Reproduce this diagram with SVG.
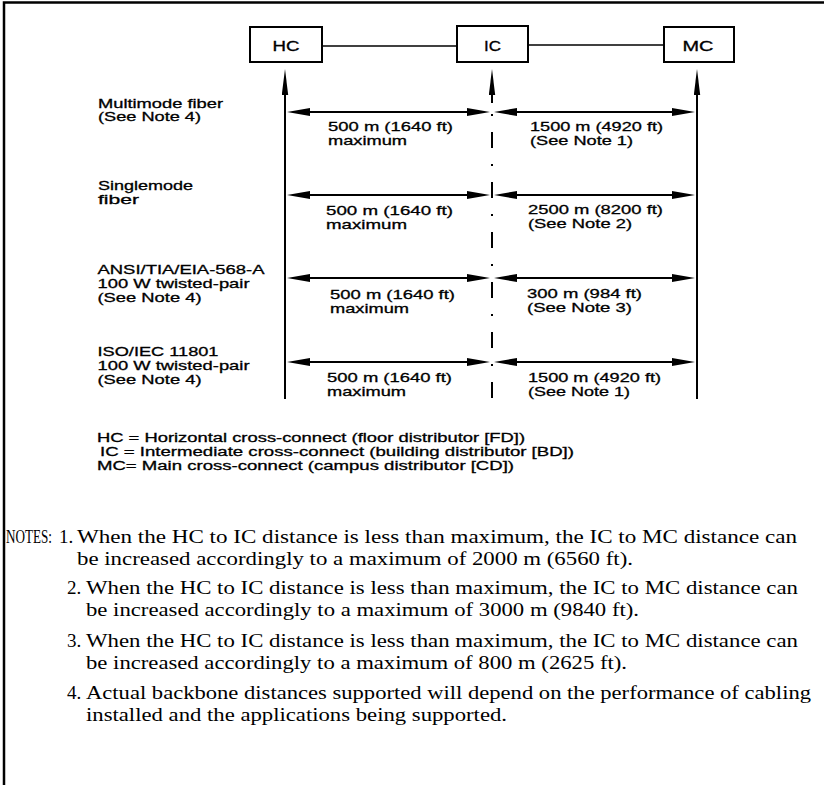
<svg xmlns="http://www.w3.org/2000/svg" width="824" height="785" viewBox="0 0 824 785">
<style>
.sans{font-family:"Liberation Sans",Arial,Helvetica,sans-serif;font-size:13px;fill:#000;stroke:#000;stroke-width:0.3;}
.big{font-size:14px;}
.leg{font-size:12.5px;}
.serif{font-family:"Liberation Serif","Times New Roman",serif;font-size:19px;fill:#000;}
.box{fill:#fff;stroke:#000;stroke-width:2;}
.thin{stroke:#000;stroke-width:1.3;fill:none;}
.thick{stroke:#000;stroke-width:2;fill:none;}
.frame{stroke:#000;stroke-width:2.5;fill:none;}
</style>
<defs>
<marker id="ah" markerUnits="userSpaceOnUse" viewBox="0 0 23 8" markerWidth="23" markerHeight="8" refX="13" refY="4" orient="auto-start-reverse"><path d="M0,0 L23,4 L0,8 z" fill="#000"/></marker>
<marker id="av" markerUnits="userSpaceOnUse" viewBox="0 0 26 7" markerWidth="26" markerHeight="7" refX="16" refY="3.5" orient="auto"><path d="M0,0.3 L26,3.5 L0,6.7 z" fill="#000"/></marker>
</defs>
<rect width="824" height="785" fill="#fff"/>
<path class="frame" d="M4,785 V2.5 H824"/>

<g id="connectors">
<line class="thin" x1="322" y1="46" x2="457" y2="46"/>
<line class="thin" x1="528" y1="45" x2="664" y2="45"/>
<line class="thick" x1="285" y1="399" x2="285" y2="79" marker-end="url(#av)"/>
<line class="thick" x1="697" y1="399" x2="697" y2="79" marker-end="url(#av)"/>
<line class="thick" x1="492" y1="103" x2="492" y2="79" marker-end="url(#av)"/>
<line class="thick" x1="492" y1="114" x2="492" y2="400" stroke-dasharray="2 16 16 16"/>
<line class="thick" x1="297" y1="112" x2="480" y2="112" marker-start="url(#ah)" marker-end="url(#ah)"/>
<line class="thick" x1="504" y1="112" x2="685" y2="112" marker-start="url(#ah)" marker-end="url(#ah)"/>
<line class="thick" x1="297" y1="195" x2="480" y2="195" marker-start="url(#ah)" marker-end="url(#ah)"/>
<line class="thick" x1="504" y1="195" x2="685" y2="195" marker-start="url(#ah)" marker-end="url(#ah)"/>
<line class="thick" x1="297" y1="278" x2="480" y2="278" marker-start="url(#ah)" marker-end="url(#ah)"/>
<line class="thick" x1="504" y1="278" x2="685" y2="278" marker-start="url(#ah)" marker-end="url(#ah)"/>
<line class="thick" x1="297" y1="362" x2="480" y2="362" marker-start="url(#ah)" marker-end="url(#ah)"/>
<line class="thick" x1="504" y1="362" x2="685" y2="362" marker-start="url(#ah)" marker-end="url(#ah)"/>
</g>

<g id="HC">
<rect class="box" x="250" y="27" width="72" height="35"/>
<text class="sans big" x="272.5" y="50.5" textLength="27" lengthAdjust="spacingAndGlyphs">HC</text>
</g>
<g id="IC">
<rect class="box" x="457" y="26" width="71" height="36"/>
<text class="sans big" x="484" y="50.5" textLength="17" lengthAdjust="spacingAndGlyphs">IC</text>
</g>
<g id="MC">
<rect class="box" x="664" y="27" width="70" height="35"/>
<text class="sans big" x="682.5" y="50.5" textLength="31" lengthAdjust="spacingAndGlyphs">MC</text>
</g>

<g id="row-labels" class="sans">
<text x="98" y="107.5" textLength="125" lengthAdjust="spacingAndGlyphs">Multimode fiber</text>
<text x="98" y="121" textLength="103" lengthAdjust="spacingAndGlyphs">(See Note 4)</text>
<text x="98" y="189.5" textLength="95" lengthAdjust="spacingAndGlyphs">Singlemode</text>
<text x="98" y="203.5" textLength="41" lengthAdjust="spacingAndGlyphs">fiber</text>
<text x="97.5" y="273.5" textLength="167" lengthAdjust="spacingAndGlyphs">ANSI/TIA/EIA-568-A</text>
<text x="97.5" y="287.5" textLength="152" lengthAdjust="spacingAndGlyphs">100 W twisted-pair</text>
<text x="97.5" y="301.5" textLength="104" lengthAdjust="spacingAndGlyphs">(See Note 4)</text>
<text x="97.5" y="355.5" textLength="121" lengthAdjust="spacingAndGlyphs">ISO/IEC 11801</text>
<text x="97.5" y="369.5" textLength="152" lengthAdjust="spacingAndGlyphs">100 W twisted-pair</text>
<text x="97.5" y="383.5" textLength="104" lengthAdjust="spacingAndGlyphs">(See Note 4)</text>
</g>

<g id="distances" class="sans">
<text x="328" y="131" textLength="125" lengthAdjust="spacingAndGlyphs">500 m (1640 ft)</text>
<text x="328" y="145" textLength="79" lengthAdjust="spacingAndGlyphs">maximum</text>
<text x="326" y="214.5" textLength="127" lengthAdjust="spacingAndGlyphs">500 m (1640 ft)</text>
<text x="326" y="229" textLength="81" lengthAdjust="spacingAndGlyphs">maximum</text>
<text x="330" y="299" textLength="125" lengthAdjust="spacingAndGlyphs">500 m (1640 ft)</text>
<text x="330" y="313" textLength="79" lengthAdjust="spacingAndGlyphs">maximum</text>
<text x="327" y="382" textLength="125" lengthAdjust="spacingAndGlyphs">500 m (1640 ft)</text>
<text x="327" y="396" textLength="79" lengthAdjust="spacingAndGlyphs">maximum</text>
<text x="530" y="130.5" textLength="133" lengthAdjust="spacingAndGlyphs">1500 m (4920 ft)</text>
<text x="530" y="144.5" textLength="103" lengthAdjust="spacingAndGlyphs">(See Note 1)</text>
<text x="528" y="213.5" textLength="135" lengthAdjust="spacingAndGlyphs">2500 m (8200 ft)</text>
<text x="528" y="227.5" textLength="104" lengthAdjust="spacingAndGlyphs">(See Note 2)</text>
<text x="527" y="297.5" textLength="115" lengthAdjust="spacingAndGlyphs">300 m (984 ft)</text>
<text x="527" y="311.5" textLength="105" lengthAdjust="spacingAndGlyphs">(See Note 3)</text>
<text x="528" y="381.5" textLength="133" lengthAdjust="spacingAndGlyphs">1500 m (4920 ft)</text>
<text x="528" y="395.5" textLength="102" lengthAdjust="spacingAndGlyphs">(See Note 1)</text>
</g>

<g id="legend" class="sans leg">
<text x="97" y="441.5" textLength="428" lengthAdjust="spacingAndGlyphs">HC = Horizontal cross-connect (floor distributor [FD])</text>
<text x="100" y="455.5" textLength="474" lengthAdjust="spacingAndGlyphs">IC = Intermediate cross-connect (building distributor [BD])</text>
<text x="97" y="469.5" textLength="417" lengthAdjust="spacingAndGlyphs">MC= Main cross-connect (campus distributor [CD])</text>
</g>

<g id="notes" class="serif">
<text x="6" y="543" textLength="46" lengthAdjust="spacingAndGlyphs">NOTES:</text>
<text x="59" y="543">1.</text>
<text x="77" y="543" textLength="720" lengthAdjust="spacingAndGlyphs">When the HC to IC distance is less than maximum, the IC to MC distance can</text>
<text x="77" y="565" textLength="556" lengthAdjust="spacingAndGlyphs">be increased accordingly to a maximum of 2000 m (6560 ft).</text>
<text x="67" y="594">2.</text>
<text x="86" y="594" textLength="712" lengthAdjust="spacingAndGlyphs">When the HC to IC distance is less than maximum, the IC to MC distance can</text>
<text x="86" y="616" textLength="553" lengthAdjust="spacingAndGlyphs">be increased accordingly to a maximum of 3000 m (9840 ft).</text>
<text x="67" y="647">3.</text>
<text x="86" y="647" textLength="712" lengthAdjust="spacingAndGlyphs">When the HC to IC distance is less than maximum, the IC to MC distance can</text>
<text x="86" y="669" textLength="541" lengthAdjust="spacingAndGlyphs">be increased accordingly to a maximum of 800 m (2625 ft).</text>
<text x="67" y="699">4.</text>
<text x="86" y="699" textLength="725" lengthAdjust="spacingAndGlyphs">Actual backbone distances supported will depend on the performance of cabling</text>
<text x="86" y="721" textLength="421" lengthAdjust="spacingAndGlyphs">installed and the applications being supported.</text>
</g>
</svg>
